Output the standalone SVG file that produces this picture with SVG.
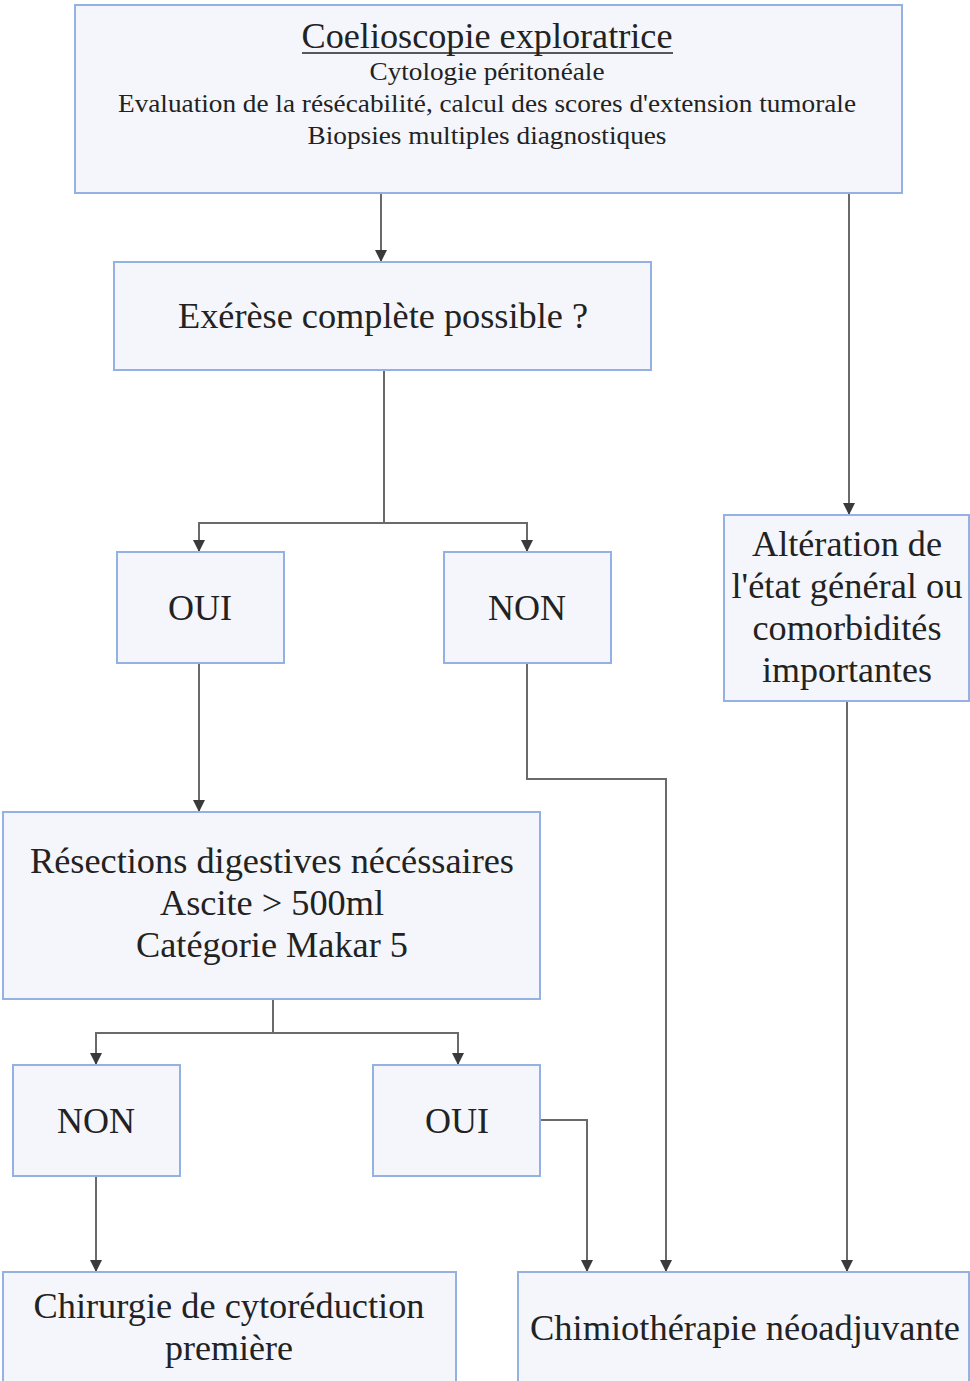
<svg xmlns="http://www.w3.org/2000/svg" width="970" height="1381" viewBox="0 0 970 1381">
<defs>
<marker id="arr" viewBox="0 0 10 10" refX="10" refY="5" markerWidth="12" markerHeight="12" markerUnits="userSpaceOnUse" orient="auto">
<path d="M0,0 L10,5 L0,10 Z" fill="#3a3a3a"/>
</marker>
<style>
.box{fill:#f4f6fb;stroke:#93b1e3;stroke-width:2}
.t{font-family:"Liberation Serif","Times New Roman",serif;fill:#222222;text-anchor:middle}
.big{font-size:36px}
.sub{font-size:26px}
.c{fill:none;stroke:#6a6a6a;stroke-width:2;marker-end:url(#arr)}
.c0{fill:none;stroke:#6a6a6a;stroke-width:2}
</style>
</defs>
<rect width="970" height="1381" fill="#ffffff"/>
<g id="connectors">
<path class="c" d="M381,193 V262"/>
<path class="c" d="M849,193 V515"/>
<path class="c0" d="M384,370 V523"/>
<path class="c" d="M384,523 H199 V552"/>
<path class="c" d="M384,523 H527 V552"/>
<path class="c" d="M199,663 V812"/>
<path class="c" d="M527,663 V779 H666 V1272"/>
<path class="c" d="M847,701 V1272"/>
<path class="c0" d="M273,999 V1033"/>
<path class="c" d="M273,1033 H96 V1065"/>
<path class="c" d="M273,1033 H458 V1065"/>
<path class="c" d="M540,1120 H587 V1272"/>
<path class="c" d="M96,1176 V1272"/>
</g>
<g id="coelioscopie">
<rect class="box" x="75" y="5" width="827" height="188"/>
<text class="t big" x="487" y="48" textLength="371" lengthAdjust="spacingAndGlyphs">Coelioscopie exploratrice</text>
<line x1="302" y1="53" x2="673" y2="53" stroke="#222222" stroke-width="1.5"/>
<text class="t sub" x="487" y="80" textLength="235" lengthAdjust="spacingAndGlyphs">Cytologie péritonéale</text>
<text class="t sub" x="487" y="112" textLength="738" lengthAdjust="spacingAndGlyphs">Evaluation de la résécabilité, calcul des scores d'extension tumorale</text>
<text class="t sub" x="487" y="144" textLength="359" lengthAdjust="spacingAndGlyphs">Biopsies multiples diagnostiques</text>
</g>
<g id="exerese">
<rect class="box" x="114" y="262" width="537" height="108"/>
<text class="t big" x="383" y="328" textLength="410" lengthAdjust="spacingAndGlyphs">Exérèse complète possible ?</text>
</g>
<g id="oui1">
<rect class="box" x="117" y="552" width="167" height="111"/>
<text class="t big" x="200" y="620">OUI</text>
</g>
<g id="non1">
<rect class="box" x="444" y="552" width="167" height="111"/>
<text class="t big" x="527" y="620">NON</text>
</g>
<g id="alteration">
<rect class="box" x="724" y="515" width="245" height="186"/>
<text class="t big" x="847" y="556" textLength="190" lengthAdjust="spacingAndGlyphs">Altération de</text>
<text class="t big" x="847" y="598" textLength="231" lengthAdjust="spacingAndGlyphs">l'état général ou</text>
<text class="t big" x="847" y="640" textLength="189" lengthAdjust="spacingAndGlyphs">comorbidités</text>
<text class="t big" x="847" y="682" textLength="170" lengthAdjust="spacingAndGlyphs">importantes</text>
</g>
<g id="resections">
<rect class="box" x="3" y="812" width="537" height="187"/>
<text class="t big" x="272" y="873" textLength="484" lengthAdjust="spacingAndGlyphs">Résections digestives nécéssaires</text>
<text class="t big" x="272" y="915" textLength="224" lengthAdjust="spacingAndGlyphs">Ascite &gt; 500ml</text>
<text class="t big" x="272" y="957" textLength="272" lengthAdjust="spacingAndGlyphs">Catégorie Makar 5</text>
</g>
<g id="non2">
<rect class="box" x="13" y="1065" width="167" height="111"/>
<text class="t big" x="96" y="1133">NON</text>
</g>
<g id="oui2">
<rect class="box" x="373" y="1065" width="167" height="111"/>
<text class="t big" x="457" y="1133">OUI</text>
</g>
<g id="chirurgie">
<rect class="box" x="3" y="1272" width="453" height="120"/>
<text class="t big" x="229" y="1318" textLength="391" lengthAdjust="spacingAndGlyphs">Chirurgie de cytoréduction</text>
<text class="t big" x="229" y="1360" textLength="128" lengthAdjust="spacingAndGlyphs">première</text>
</g>
<g id="chimio">
<rect class="box" x="518" y="1272" width="451" height="120"/>
<text class="t big" x="745" y="1340" textLength="430" lengthAdjust="spacingAndGlyphs">Chimiothérapie néoadjuvante</text>
</g>
</svg>
